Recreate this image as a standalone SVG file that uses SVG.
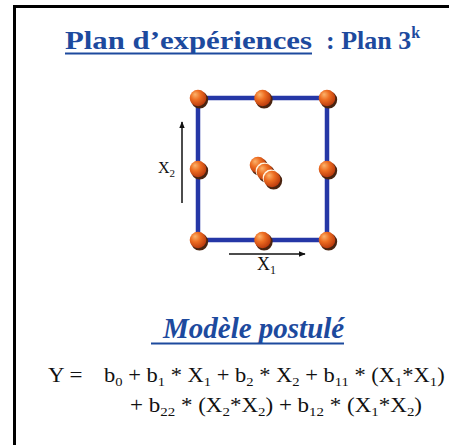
<svg xmlns="http://www.w3.org/2000/svg" width="449" height="445" viewBox="0 0 449 445">
<defs>
<style>
.title{font-family:"Liberation Serif","Times New Roman",serif;font-weight:bold;fill:#1d4a9e;}
.eq{font-family:"Liberation Serif","Times New Roman",serif;fill:#111;font-size:20px;}
.lab{font-family:"Liberation Serif","Times New Roman",serif;fill:#111;}
.edge{stroke:#2537a6;stroke-width:4.5;fill:none;stroke-linecap:square;}
.axis{stroke:#111;stroke-width:1.5;fill:none;}
.ul{stroke:#1d4a9e;stroke-width:2;}
</style>
<radialGradient id="ballg" cx="0.4" cy="0.38" r="0.65" fx="0.32" fy="0.28">
<stop offset="0" stop-color="#fbb36c"/>
<stop offset="0.45" stop-color="#ee6e22"/>
<stop offset="1" stop-color="#b8380c"/>
</radialGradient>
<marker id="arr" viewBox="0 0 10 10" refX="9" refY="5" markerWidth="7" markerHeight="7" orient="auto" markerUnits="userSpaceOnUse">
<path d="M0,1 L10,5 L0,9 Z" fill="#111"/>
</marker>
<g id="ball">
<circle cx="1.6" cy="1.8" r="8.6" fill="#4a2410"/>
<circle cx="0" cy="0" r="8.3" fill="url(#ballg)"/>
</g>
</defs>
<rect x="0" y="0" width="449" height="445" fill="#fff"/>
<g id="frame">
<line x1="14.5" y1="6.5" x2="14.5" y2="445" stroke="#000" stroke-width="3"/>
<line x1="13" y1="6.5" x2="449" y2="6.5" stroke="#000" stroke-width="3"/>
</g>
<g id="title">
<text class="title" x="65" y="49" font-size="25" textLength="247" lengthAdjust="spacingAndGlyphs">Plan d’expériences</text>
<line class="ul" x1="65" y1="53.5" x2="312" y2="53.5"/>
<text class="title" x="326" y="49" font-size="26">: Plan 3<tspan font-size="16" dy="-11">k</tspan></text>
</g>
<g id="connectors">
<polyline class="edge" points="198,98 327,98 327,240 198,240 198,98"/>
<line class="axis" x1="182" y1="203" x2="182" y2="122" marker-end="url(#arr)"/>
<line class="axis" x1="229" y1="254" x2="305" y2="254" marker-end="url(#arr)"/>
</g>
<g id="nodes">
<g id="n1"><use href="#ball" x="198" y="98"/></g>
<g id="n2"><use href="#ball" x="262.5" y="98"/></g>
<g id="n3"><use href="#ball" x="327" y="98"/></g>
<g id="n4"><use href="#ball" x="198" y="169"/></g>
<g id="n5"><use href="#ball" x="327" y="169"/></g>
<g id="n6"><use href="#ball" x="198" y="240"/></g>
<g id="n7"><use href="#ball" x="262.5" y="240"/></g>
<g id="n8"><use href="#ball" x="327" y="240"/></g>
<g id="center">
<use href="#ball" x="258" y="165"/>
<circle cx="264" cy="171" r="8.4" fill="#fff4e0"/>
<use href="#ball" x="265" y="172"/>
<circle cx="271" cy="178" r="8.4" fill="#fff4e0"/>
<use href="#ball" x="272" y="179"/>
</g>
</g>
<g id="labels">
<text class="lab" x="158" y="173" font-size="16">X<tspan font-size="11" dy="4">2</tspan></text>
<text class="lab" x="257" y="270" font-size="18">X<tspan font-size="12" dy="4">1</tspan></text>
</g>
<g id="model">
<text class="title" x="163" y="338" font-size="29" font-style="italic">Modèle postulé</text>
<line class="ul" x1="151" y1="343.5" x2="344" y2="343.5"/>
</g>
<g id="equation">
<text class="eq" transform="translate(48,382) scale(1.15,1)">Y =</text>
<text class="eq" transform="translate(104,382) scale(1.125,1)">b<tspan font-size="13" dy="4">0</tspan><tspan dy="-4"> + b</tspan><tspan font-size="13" dy="4">1</tspan><tspan dy="-4"> * X</tspan><tspan font-size="13" dy="4">1</tspan><tspan dy="-4"> + b</tspan><tspan font-size="13" dy="4">2</tspan><tspan dy="-4"> * X</tspan><tspan font-size="13" dy="4">2</tspan><tspan dy="-4"> + b</tspan><tspan font-size="13" dy="4">11</tspan><tspan dy="-4"> * (X</tspan><tspan font-size="13" dy="4">1</tspan><tspan dy="-4">*X</tspan><tspan font-size="13" dy="4">1</tspan><tspan dy="-4">)</tspan></text>
<text class="eq" transform="translate(130,412) scale(1.15,1)">+ b<tspan font-size="13" dy="4">22</tspan><tspan dy="-4"> * (X</tspan><tspan font-size="13" dy="4">2</tspan><tspan dy="-4">*X</tspan><tspan font-size="13" dy="4">2</tspan><tspan dy="-4">) + b</tspan><tspan font-size="13" dy="4">12</tspan><tspan dy="-4"> * (X</tspan><tspan font-size="13" dy="4">1</tspan><tspan dy="-4">*X</tspan><tspan font-size="13" dy="4">2</tspan><tspan dy="-4">)</tspan></text>
</g>
</svg>
